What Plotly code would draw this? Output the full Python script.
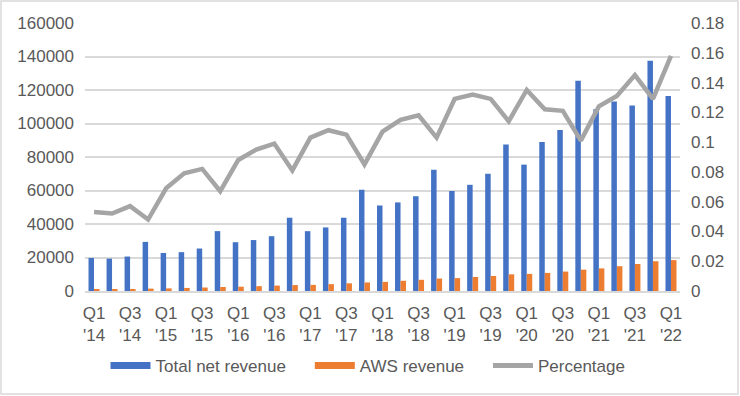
import plotly.graph_objects as go

quarters = ["Q1 '14","Q2 '14","Q3 '14","Q4 '14","Q1 '15","Q2 '15","Q3 '15","Q4 '15",
            "Q1 '16","Q2 '16","Q3 '16","Q4 '16","Q1 '17","Q2 '17","Q3 '17","Q4 '17",
            "Q1 '18","Q2 '18","Q3 '18","Q4 '18","Q1 '19","Q2 '19","Q3 '19","Q4 '19",
            "Q1 '20","Q2 '20","Q3 '20","Q4 '20","Q1 '21","Q2 '21","Q3 '21","Q4 '21","Q1 '22"]
total_net_revenue = [19741,19340,20579,29328,22717,23185,25358,35747,
                     29128,30404,32714,43741,35714,37955,43744,60453,
                     51042,52886,56576,72383,59700,63404,69981,87437,
                     75452,88912,96145,125555,108518,113080,110812,137412,116444]
aws_revenue = [1050,1005,1170,1420,1566,1824,2085,2405,
               2566,2886,3231,3536,3661,4100,4584,5113,
               5442,6105,6679,7430,7696,8381,8995,9954,
               10219,10808,11601,12742,13503,14809,16110,17780,18441]
percentage = [0.053,0.052,0.057,0.048,0.069,0.079,0.082,0.067,
              0.088,0.095,0.099,0.081,0.103,0.108,0.105,0.085,
              0.107,0.115,0.118,0.103,0.129,0.132,0.129,0.114,
              0.135,0.122,0.121,0.101,0.124,0.131,0.145,0.129,0.158]
tick_quarters = quarters[::2]
tick_labels = [q.replace(" ", "<br>") for q in tick_quarters]
series_names = ["Total net revenue", "AWS revenue", "Percentage"]

FONT = "Liberation Sans"
TXT = "#595959"
FS = 17
BLUE, ORANGE, GRAY = "#4472C4", "#ED7D31", "#A5A5A5"

fig = go.Figure()
fig.add_trace(go.Bar(x=quarters, y=total_net_revenue, name=series_names[0],
                     marker=dict(color=BLUE, line=dict(width=0)), showlegend=False))
fig.add_trace(go.Bar(x=quarters, y=aws_revenue, name=series_names[1],
                     marker=dict(color=ORANGE, line=dict(width=0)), showlegend=False))
fig.add_trace(go.Scatter(x=quarters, y=percentage, name=series_names[2], yaxis="y2",
                         mode="lines", line=dict(color=GRAY, width=4.5), showlegend=False))
# legend entries (Excel-style wide swatches)
pad = "\u00a0" * 4
for i, (col, w) in enumerate([(BLUE, 7), (ORANGE, 7), (GRAY, 5)]):
    nm = series_names[i] + (pad if i < 2 else "")
    fig.add_trace(go.Scatter(x=[None], y=[None], name=nm, mode="lines",
                             line=dict(color=col, width=w), showlegend=True))

L, R, T, B, W, H = 85, 60, 23, 105, 740, 396
pw, ph = W - L - R, H - T - B
fig.add_shape(type="rect", xref="paper", yref="paper",
              x0=(1 - L) / pw, x1=(W - 2 - L) / pw,
              y0=-(B - 2) / ph, y1=1 + (T - 1) / ph,
              line=dict(color="#D9D9D9", width=1.5), fillcolor="rgba(0,0,0,0)", layer="below")

fig.update_layout(
    width=W, height=H,
    margin=dict(l=L, r=R, t=T, b=B, autoexpand=False),
    paper_bgcolor="white", plot_bgcolor="white",
    font=dict(family=FONT, size=FS, color=TXT),
    barmode="group", bargap=0.39, bargroupgap=0.0,
    xaxis=dict(categoryorder="array", categoryarray=quarters, automargin=False,
               tickmode="array", tickvals=tick_quarters, ticktext=tick_labels,
               showgrid=False, showline=True, linecolor="#D9D9D9", linewidth=1.5,
               ticks="", tickfont=dict(size=FS, color=TXT), tickangle=0,
               ticklabelstandoff=6),
    yaxis=dict(range=[0, 160000], dtick=20000, tickformat="d", automargin=False,
               showgrid=True, gridcolor="#D9D9D9", gridwidth=1.5,
               zeroline=False, ticks="", tickfont=dict(size=FS, color=TXT),
               ticklabelstandoff=10),
    yaxis2=dict(range=[0, 0.18], dtick=0.02, overlaying="y", side="right", automargin=False,
                showgrid=False, zeroline=False, ticks="",
                tickfont=dict(size=FS, color=TXT), ticklabelstandoff=10),
    legend=dict(orientation="h", x=(368 - L) / pw, xanchor="center", y=-75 / ph, yanchor="middle",
                font=dict(size=FS, color=TXT), traceorder="normal", itemwidth=40,
                bgcolor="rgba(0,0,0,0)"),
    showlegend=True,
)

fig.write_html("out.html", config={"displayModeBar": False},
               post_script="document.body.style.margin='0';document.body.style.overflow='hidden';")
